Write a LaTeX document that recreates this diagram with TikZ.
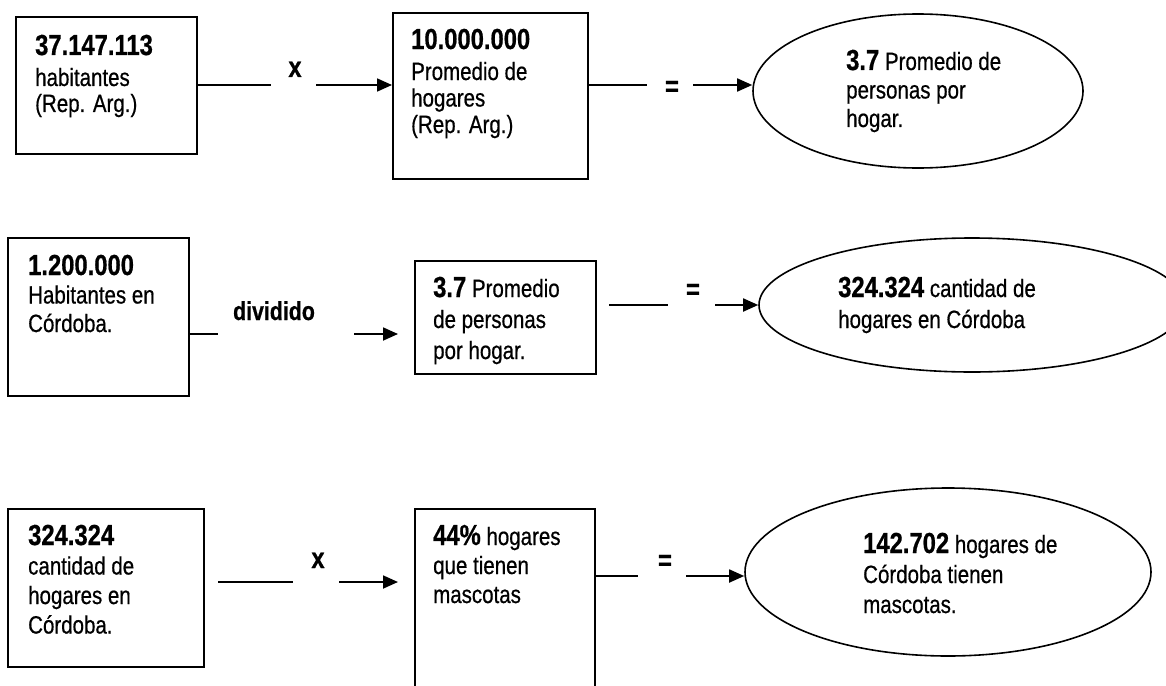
\documentclass[tikz,border=0pt]{standalone}
\usepackage{fontspec}
\setmainfont{Liberation Sans}[FakeStretch=0.82,FakeBold=0.6]
\usetikzlibrary{arrows.meta,shapes.geometric}
% bold figure at the head of each block
\newcommand\numtxt[1]{{\fontsize{29}{29}\selectfont\bfseries #1}}
% a block of lines with a fixed distance between baselines
\newcommand\txtblock[2]{\vtop{\baselineskip=#1pt\lineskiplimit=-100pt\lineskip=0pt #2}}
\newcommand\tline[1]{\hbox{#1}}
\begin{document}
\begin{tikzpicture}[x=1pt,y=-1pt,
  box/.style={draw, line width=1.9pt, rectangle, inner sep=0pt, anchor=north west},
  oval/.style={draw, line width=1.6pt, ellipse, inner sep=0pt},
  txt/.style={anchor=base west, inner sep=0pt, font=\fontsize{25}{27}\selectfont},
  op/.style={anchor=base, inner sep=0pt, font=\fontsize{29}{29}\selectfont\bfseries},
  word/.style={anchor=base, inner sep=0pt, font=\fontsize{26}{26}\selectfont\bfseries},
  conn/.style={line width=1.8pt},
  arr/.style={line width=1.8pt, -{Triangle[length=15pt,width=13pt]}}]
\useasboundingbox (0,0) rectangle (1166,685);
\clip (0,0) rectangle (1166,685);

% ---------- first row: population x homes = persons per home
\node[box, minimum width=181pt, minimum height=137pt] (A) at (15,16) {};
\node[box, minimum width=195pt, minimum height=166pt] (B) at (392,12) {};
\node[oval, minimum width=330pt, minimum height=154pt] (O1) at (918,91) {};

\node[txt] (tA) at (35,55) {\txtblock{26}{\tline{\numtxt{37.147.113}}\vskip5pt\tline{habitantes}\tline{(Rep. Arg.)}}};
\node[txt] (tB) at (411,49) {\txtblock{26.5}{\tline{\numtxt{10.000.000}}\vskip4.5pt\tline{Promedio de}\tline{hogares}\tline{(Rep. Arg.)}}};
\node[txt] (tO1) at (846,70) {\txtblock{28.5}{\tline{\numtxt{3.7} Promedio de}\tline{personas por}\tline{hogar.}}};

\node[op] (opA) at (295,77) {x};
\node[op] (opB) at (672,96) {=};

\coordinate (a1) at (271,85);
\coordinate (a2) at (316,85);
\coordinate (b1) at (647,85);
\coordinate (b2) at (693,85);
\draw[conn] (A.east |- a1) -- (a1);
\draw[arr] (a2) -- (a2 -| B.west);
\draw[conn] (B.east |- b1) -- (b1);
\draw[arr] (b2) -- (b2 -| O1.west);

% ---------- second row: inhabitants of Cordoba / persons per home
\node[box, minimum width=181pt, minimum height=158pt] (C) at (7,237) {};
\node[box, minimum width=181pt, minimum height=113pt] (D) at (414,260) {};
\node[oval, minimum width=426pt, minimum height=134pt] (O2) at (972,305) {};

\node[txt] (tC) at (28,275) {\txtblock{28.5}{\tline{\numtxt{1.200.000}}\tline{Habitantes en}\tline{Córdoba.}}};
\node[txt] (tD) at (433,297) {\txtblock{31}{\tline{\numtxt{3.7} Promedio}\tline{de personas}\tline{por hogar.}}};
\node[txt] (tO2) at (838,297) {\txtblock{31}{\tline{\numtxt{324.324} cantidad de}\tline{hogares en Córdoba}}};

\node[word] (opC) at (274,320) {dividido};
\node[op] (opD) at (693,299) {=};

\coordinate (c1) at (218,334);
\coordinate (c2) at (354,334);
\coordinate (c3) at (398,334);
\coordinate (d1) at (609,305);
\coordinate (d2) at (668,305);
\coordinate (d3) at (715,305);
\draw[conn] (C.east |- c1) -- (c1);
\draw[arr] (c2) -- (c3);
\draw[conn] (d1) -- (d2);
\draw[arr] (d3) -- (d3 -| O2.west);

% ---------- third row: homes x share with pets
\node[box, minimum width=196pt, minimum height=158pt] (E) at (7,508) {};
\node[box, minimum width=180pt, minimum height=200pt] (F) at (414,508) {};
\node[oval, minimum width=406pt, minimum height=168pt] (O3) at (948,572) {};

\node[txt] (tE) at (28,545) {\txtblock{29.5}{\tline{\numtxt{324.324}}\tline{cantidad de}\tline{hogares en}\tline{Córdoba.}}};
\node[txt] (tF) at (433,545) {\txtblock{29}{\tline{\numtxt{44\%} hogares}\tline{que tienen}\tline{mascotas}}};
\node[txt] (tO3) at (863,553) {\txtblock{30}{\tline{\numtxt{142.702} hogares de}\tline{Córdoba tienen}\tline{mascotas.}}};

\node[op] (opE) at (318,568) {x};
\node[op] (opF) at (665,570) {=};

\coordinate (e1) at (218,582);
\coordinate (e2) at (293,582);
\coordinate (e3) at (339,582);
\coordinate (e4) at (398,582);
\coordinate (f1) at (638,576);
\coordinate (f2) at (686,576);
\draw[conn] (e1) -- (e2);
\draw[arr] (e3) -- (e4);
\draw[conn] (F.east |- f1) -- (f1);
\draw[arr] (f2) -- (f2 -| O3.west);
\end{tikzpicture}
\end{document}
